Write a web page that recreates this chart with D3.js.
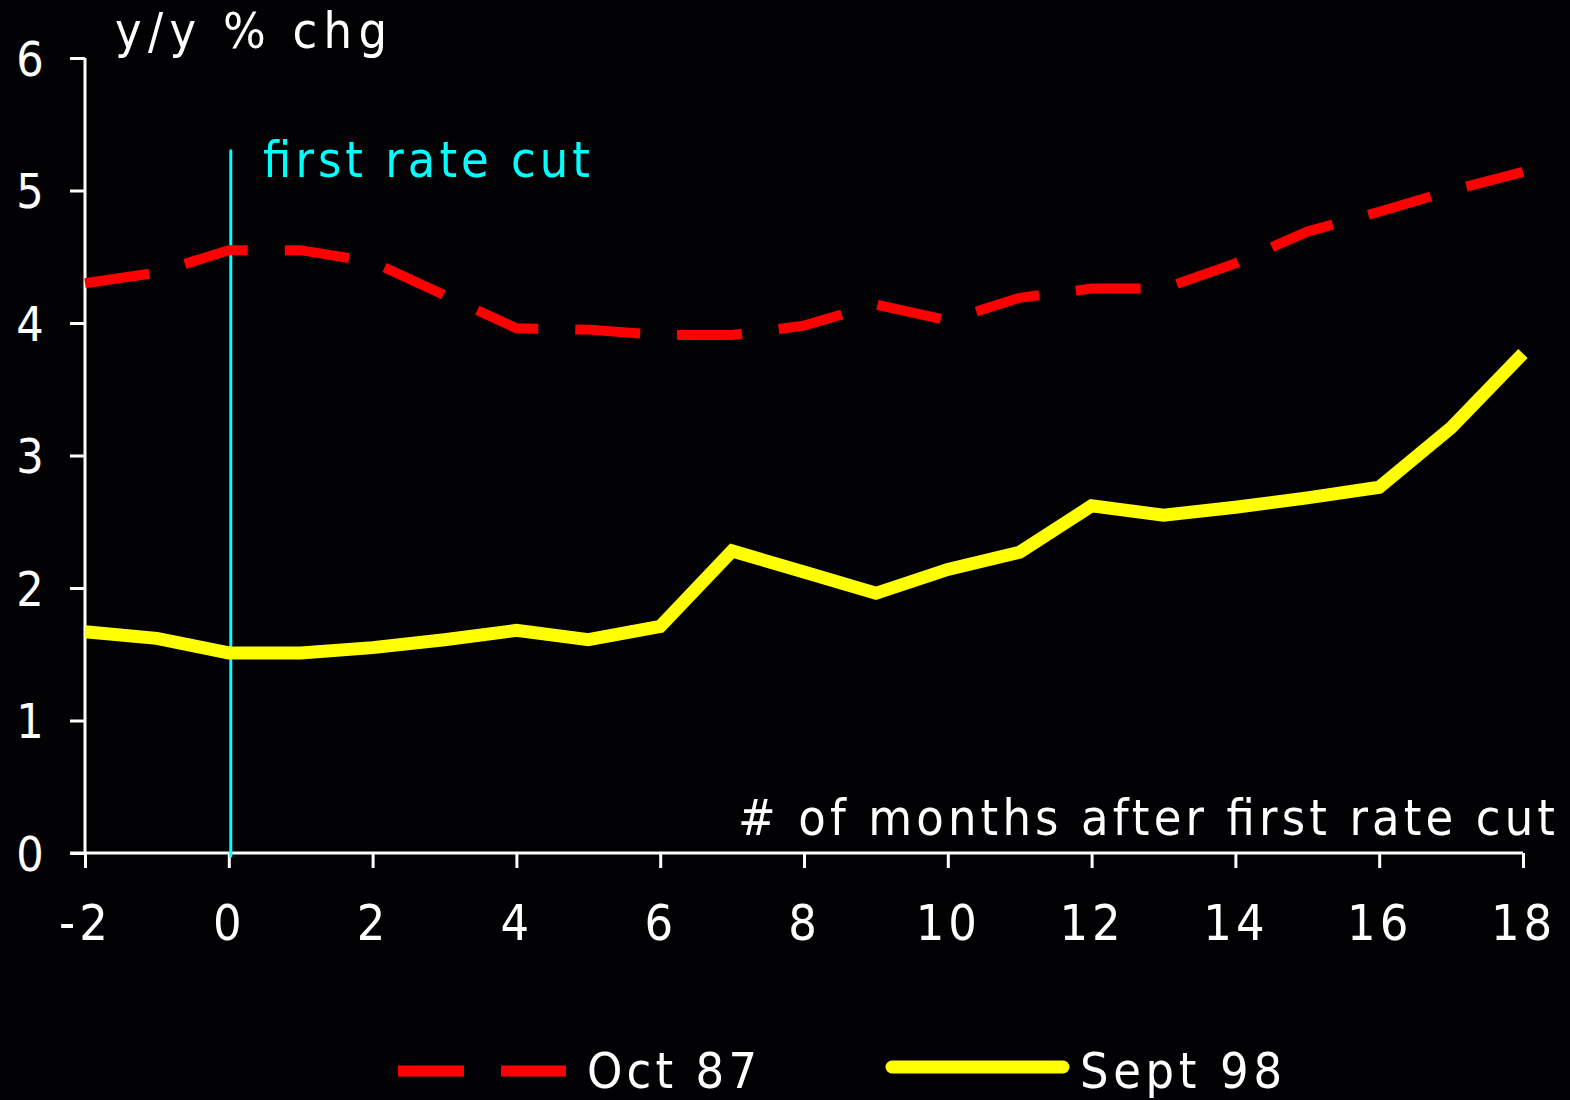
<!DOCTYPE html>
<html>
<head>
<meta charset="utf-8">
<script src="https://cdn.jsdelivr.net/npm/d3@7"></script>
<style>
html,body{margin:0;padding:0;background:#020205;}
svg{display:block;}
text{font-family:"DejaVu Sans Condensed","DejaVu Sans",sans-serif;}
</style>
</head>
<body>
<svg id="chart" width="1570" height="1100"></svg>
<script>
const months = [-2,-1,0,1,2,3,4,5,6,7,8,9,10,11,12,13,14,15,16,17,18];
const oct87 = [4.30,4.38,4.55,4.55,4.46,4.21,3.96,3.95,3.91,3.91,3.98,4.14,4.02,4.19,4.26,4.26,4.45,4.69,4.84,5.00,5.14];
const sept98 = [1.67,1.62,1.51,1.51,1.55,1.61,1.68,1.61,1.71,2.28,2.12,1.96,2.14,2.27,2.62,2.55,2.61,2.68,2.76,3.21,3.77];
const xTicks = [-2,0,2,4,6,8,10,12,14,16,18];
const yTicks = [0,1,2,3,4,5,6];
const cutMonth = 0;
const cutTop = 5.3;

const FONT = '"DejaVu Sans Condensed","DejaVu Sans",sans-serif';
const svg = d3.select("#chart");
svg.append("rect").attr("width",1570).attr("height",1100).attr("fill","#020205");

const x = d3.scaleLinear().domain([-2,18]).range([85,1523]);
const y = d3.scaleLinear().domain([0,6]).range([853,58]);

// y axis
const yAxis = svg.append("g").attr("transform","translate(85,0)")
  .call(d3.axisLeft(y).tickValues(yTicks).tickSize(15).tickPadding(10).tickFormat(d=>String(d)));
yAxis.select(".domain").attr("stroke","#fff").attr("stroke-width",3).attr("d","M0,58V853");
yAxis.selectAll(".tick line").attr("stroke","#fff").attr("stroke-width",3);
yAxis.selectAll(".tick text").attr("fill","#fff").attr("font-size",48)
  .attr("font-family",FONT).attr("letter-spacing",2)
  .attr("x",-54).attr("text-anchor","middle").attr("dy","0.36em");

// x axis
const xAxis = svg.append("g").attr("transform","translate(0,853)")
  .call(d3.axisBottom(x).tickValues(xTicks).tickSize(15).tickPadding(36).tickFormat(d=>String(d)));
xAxis.select(".domain").attr("stroke","#fff").attr("stroke-width",3).attr("d","M70,0H1523");
xAxis.selectAll(".tick line").attr("stroke","#fff").attr("stroke-width",3);
xAxis.selectAll(".tick text").attr("fill","#fff").attr("font-size",50)
  .attr("font-family",FONT).attr("letter-spacing",4);

// first rate cut line
svg.append("line")
  .attr("x1",x(cutMonth)+2).attr("x2",x(cutMonth)+2)
  .attr("y1",y(cutTop)).attr("y2",y(0)+3)
  .attr("stroke","#00ffff").attr("stroke-width",3).attr("stroke-linecap","round");

const line = d3.line().x(d=>x(d[0])).y(d=>y(d[1]));

svg.append("path").datum(months.map((m,i)=>[m,sept98[i]]))
  .attr("d",line).attr("fill","none").attr("stroke","#ffff00")
  .attr("stroke-width",13).attr("stroke-linejoin","miter");

svg.append("path").datum(months.map((m,i)=>[m,oct87[i]]))
  .attr("d",line).attr("fill","none").attr("stroke","#ff0000")
  .attr("stroke-width",10).attr("stroke-dasharray","65,37").attr("stroke-linejoin","miter");

// texts
function label(xp, yp, txt, len, color, anchor){
  return svg.append("text").attr("x",xp).attr("y",yp).attr("fill",color||"#fff")
    .attr("font-size",50).attr("text-anchor",anchor||"start")
    .attr("textLength",len).attr("lengthAdjust","spacing").text(txt);
}
label(115,48,"y/y % chg",272);
label(263,177,"first rate cut",327,"#00ffff");
label(1555,835,"# of months after first rate cut",817,"#fff","end");

// legend
svg.append("line").attr("x1",398).attr("x2",566).attr("y1",1071).attr("y2",1071)
  .attr("stroke","#ff0000").attr("stroke-width",11).attr("stroke-dasharray","66,37");
label(587,1088,"Oct 87",170);
svg.append("line").attr("x1",892).attr("x2",1063).attr("y1",1067).attr("y2",1067)
  .attr("stroke","#ffff00").attr("stroke-width",13).attr("stroke-linecap","round");
label(1080,1088,"Sept 98",202);
</script>
</body>
</html>
